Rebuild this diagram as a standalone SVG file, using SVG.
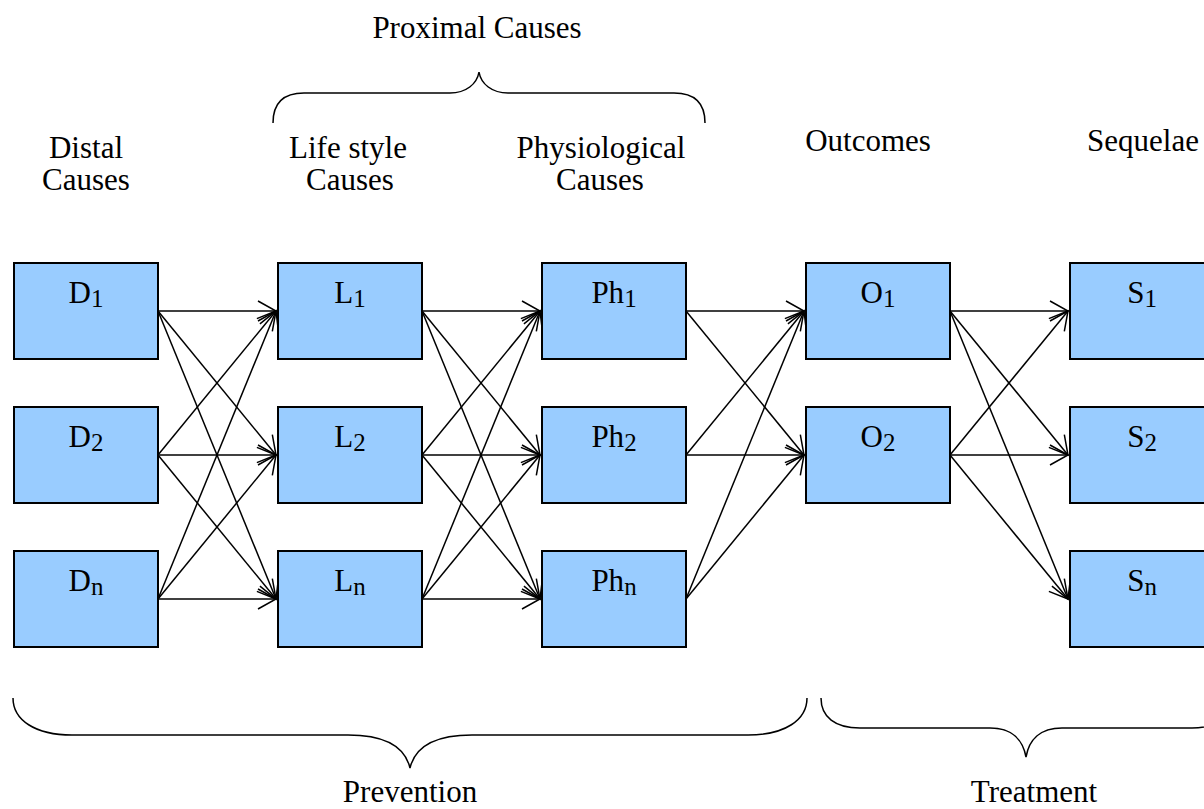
<svg xmlns="http://www.w3.org/2000/svg" width="1204" height="809" viewBox="0 0 1204 809">
<style>
text{font-family:"Liberation Serif","Times New Roman",serif;font-size:31px;fill:#000;text-anchor:middle}
.box{fill:#99CCFF;stroke:#000;stroke-width:2}
.sub{font-size:25px}
.edge{stroke:#000;stroke-width:1.5;fill:none;marker-end:url(#arr)}
.brace{stroke:#000;stroke-width:1.5;fill:none}
</style>
<defs>
<marker id="arr" markerUnits="userSpaceOnUse" viewBox="-20 -12 22 24" markerWidth="22" markerHeight="24" refX="0" refY="0" orient="auto">
<path d="M-18,-10 L0,0 L-18,10" fill="none" stroke="#000" stroke-width="1.5"/>
</marker>
</defs>
<rect width="1204" height="809" fill="#fff"/>

<g id="labels">
<text x="477" y="38">Proximal Causes</text>
<text x="86" y="158">Distal</text>
<text x="86" y="190">Causes</text>
<text x="348" y="158">Life style</text>
<text x="350" y="190">Causes</text>
<text x="601" y="158">Physiological</text>
<text x="600" y="190">Causes</text>
<text x="868" y="151">Outcomes</text>
<text x="1143" y="151">Sequelae</text>
<text x="410" y="802">Prevention</text>
<text x="1034" y="802">Treatment</text>
</g>

<g id="braces">
<path class="brace" d="M273,123 C273,103 284,93 304,93 L450,93 C466,93 477,84 479,72 C481,84 492,93 508,93 L674,93 C694,93 705,103 705,123"/>
<path class="brace" d="M13,698 C13,720 35,735 72,735 L348,735 C385,735 405,747 410,768 C415,747 435,735 472,735 L748,735 C785,735 807,720 807,698"/>
<path class="brace" d="M821,698 C821,717 835,728 860,728 L990,728 C1012,728 1023,740 1026,757 C1029,740 1040,728 1062,728 L1192,728 C1217,728 1231,717 1231,698"/>
</g>

<g id="connectors">
<line class="edge" x1="158" y1="311" x2="276" y2="311"/>
<line class="edge" x1="158" y1="311" x2="276" y2="455"/>
<line class="edge" x1="158" y1="311" x2="276" y2="599"/>
<line class="edge" x1="158" y1="455" x2="276" y2="311"/>
<line class="edge" x1="158" y1="455" x2="276" y2="455"/>
<line class="edge" x1="158" y1="455" x2="276" y2="599"/>
<line class="edge" x1="158" y1="599" x2="276" y2="311"/>
<line class="edge" x1="158" y1="599" x2="276" y2="455"/>
<line class="edge" x1="158" y1="599" x2="276" y2="599"/>

<line class="edge" x1="422" y1="311" x2="540" y2="311"/>
<line class="edge" x1="422" y1="311" x2="540" y2="455"/>
<line class="edge" x1="422" y1="311" x2="540" y2="599"/>
<line class="edge" x1="422" y1="455" x2="540" y2="311"/>
<line class="edge" x1="422" y1="455" x2="540" y2="455"/>
<line class="edge" x1="422" y1="455" x2="540" y2="599"/>
<line class="edge" x1="422" y1="599" x2="540" y2="311"/>
<line class="edge" x1="422" y1="599" x2="540" y2="455"/>
<line class="edge" x1="422" y1="599" x2="540" y2="599"/>

<line class="edge" x1="686" y1="311" x2="804" y2="311"/>
<line class="edge" x1="686" y1="311" x2="804" y2="455"/>
<line class="edge" x1="686" y1="455" x2="804" y2="311"/>
<line class="edge" x1="686" y1="455" x2="804" y2="455"/>
<line class="edge" x1="686" y1="599" x2="804" y2="311"/>
<line class="edge" x1="686" y1="599" x2="804" y2="455"/>

<line class="edge" x1="950" y1="311" x2="1068" y2="311"/>
<line class="edge" x1="950" y1="311" x2="1068" y2="455"/>
<line class="edge" x1="950" y1="311" x2="1068" y2="599"/>
<line class="edge" x1="950" y1="455" x2="1068" y2="311"/>
<line class="edge" x1="950" y1="455" x2="1068" y2="455"/>
<line class="edge" x1="950" y1="455" x2="1068" y2="599"/>
</g>

<g id="D1"><rect class="box" x="14" y="263" width="144" height="96"/><text x="86" y="303">D<tspan class="sub" dy="4">1</tspan></text></g>
<g id="D2"><rect class="box" x="14" y="407" width="144" height="96"/><text x="86" y="447">D<tspan class="sub" dy="4">2</tspan></text></g>
<g id="Dn"><rect class="box" x="14" y="551" width="144" height="96"/><text x="86" y="591">D<tspan class="sub" dy="4">n</tspan></text></g>

<g id="L1"><rect class="box" x="278" y="263" width="144" height="96"/><text x="350" y="303">L<tspan class="sub" dy="4">1</tspan></text></g>
<g id="L2"><rect class="box" x="278" y="407" width="144" height="96"/><text x="350" y="447">L<tspan class="sub" dy="4">2</tspan></text></g>
<g id="Ln"><rect class="box" x="278" y="551" width="144" height="96"/><text x="350" y="591">L<tspan class="sub" dy="4">n</tspan></text></g>

<g id="Ph1"><rect class="box" x="542" y="263" width="144" height="96"/><text x="614" y="303">Ph<tspan class="sub" dy="4">1</tspan></text></g>
<g id="Ph2"><rect class="box" x="542" y="407" width="144" height="96"/><text x="614" y="447">Ph<tspan class="sub" dy="4">2</tspan></text></g>
<g id="Phn"><rect class="box" x="542" y="551" width="144" height="96"/><text x="614" y="591">Ph<tspan class="sub" dy="4">n</tspan></text></g>

<g id="O1"><rect class="box" x="806" y="263" width="144" height="96"/><text x="878" y="303">O<tspan class="sub" dy="4">1</tspan></text></g>
<g id="O2"><rect class="box" x="806" y="407" width="144" height="96"/><text x="878" y="447">O<tspan class="sub" dy="4">2</tspan></text></g>

<g id="S1"><rect class="box" x="1070" y="263" width="144" height="96"/><text x="1142" y="303">S<tspan class="sub" dy="4">1</tspan></text></g>
<g id="S2"><rect class="box" x="1070" y="407" width="144" height="96"/><text x="1142" y="447">S<tspan class="sub" dy="4">2</tspan></text></g>
<g id="Sn"><rect class="box" x="1070" y="551" width="144" height="96"/><text x="1142" y="591">S<tspan class="sub" dy="4">n</tspan></text></g>
</svg>
